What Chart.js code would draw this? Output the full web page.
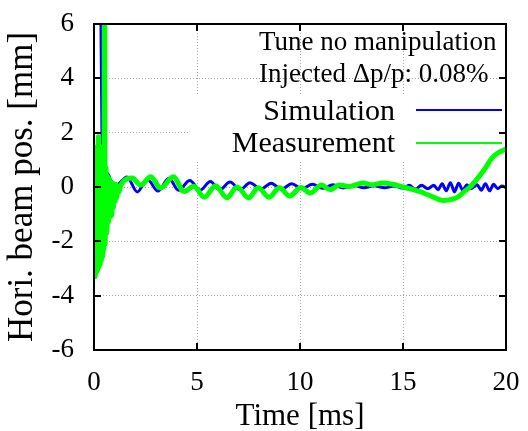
<!DOCTYPE html>
<html>
<head>
<meta charset="utf-8">
<script src="https://cdn.jsdelivr.net/npm/chart.js@4/dist/chart.umd.min.js"></script>
<style>
html,body{margin:0;padding:0;background:#fff;}
canvas{display:block;}
</style>
</head>
<body>
<canvas id="c" width="528" height="431"></canvas>
<script>
// ---- data ----
const xTickValues = [0, 5, 10, 15, 20];
const yTickValues = [-6, -4, -2, 0, 2, 4, 6];

const simTime = [0.30, 0.40, 0.55, 0.70, 0.97, 1.25, 1.60, 2.10, 2.60, 3.10, 3.64, 4.10, 4.65, 5.15, 5.65, 6.10, 6.60, 7.10, 7.57, 8.10, 8.60, 9.10, 9.60, 10.10, 10.60, 11.10, 11.60, 12.10, 12.60, 13.10, 13.60, 14.10, 14.60, 15.00, 15.30, 15.60, 15.90, 16.20, 16.50, 16.70, 16.90, 17.10, 17.30, 17.50, 17.70, 17.90, 18.10, 18.30, 18.60, 18.80, 19.00, 19.20, 19.40, 19.60, 19.80, 20.00];
const simPos  = [10, 0.9, 0.55, 0.45, 0.0, 0.15, 0.37, -0.18, 0.28, -0.15, 0.32, -0.12, 0.24, -0.12, 0.20, -0.10, 0.18, -0.10, 0.16, -0.08, 0.14, -0.08, 0.12, -0.06, 0.10, -0.05, 0.08, -0.04, 0.06, -0.03, 0.05, -0.03, 0.04, -0.04, 0.06, -0.08, 0.06, -0.06, 0.06, -0.10, 0.12, -0.14, 0.16, -0.18, 0.14, -0.12, 0.08, -0.06, 0.08, -0.12, 0.12, -0.14, 0.10, -0.06, 0.04, -0.03];

const measTime = [0.00, 0.03, 0.06, 0.09, 0.12, 0.15, 0.18, 0.21, 0.24, 0.27, 0.30, 0.33, 0.36, 0.39, 0.42, 0.45, 0.48, 0.51, 0.54, 0.58, 0.62, 0.66, 0.70, 0.74, 0.78, 0.82, 0.86, 0.90, 0.94, 0.98, 1.02, 1.06, 1.10, 1.15, 1.20, 1.30, 1.85, 2.27, 2.75, 3.24, 3.85, 4.37, 4.85, 5.35, 5.90, 6.45, 6.95, 7.50, 7.97, 8.50, 9.00, 9.50, 10.05, 10.50, 11.05, 11.46, 11.90, 12.40, 13.06, 13.50, 14.00, 14.50, 14.90, 15.50, 16.00, 16.50, 16.95, 17.40, 17.70, 18.00, 18.25, 18.60, 19.00, 19.30, 19.60, 20.00];
const measPos  = [-3.3, 0.5, -3.3, 0.9, -3.15, 1.5, -3.05, 1.85, -2.95, 1.5, -2.85, 1.3, -2.7, 1.2, -2.55, 1.0, -2.3, 10, -2.1, 0.7, -1.7, 0.4, -1.3, 0.3, -1.1, 0.2, -1.05, 0.15, -0.75, 0.1, -0.55, 0.1, -0.4, 0.05, -0.2, 0.07, 0.33, 0.07, 0.38, -0.04, 0.38, -0.17, 0.03, -0.38, 0.05, -0.4, 0.0, -0.4, -0.03, -0.38, -0.03, -0.33, -0.02, -0.22, 0.07, -0.1, 0.07, 0.02, 0.15, 0.08, 0.15, 0.10, 0.02, -0.10, -0.22, -0.38, -0.5, -0.45, -0.35, -0.15, 0.0, 0.3, 0.7, 1.05, 1.25, 1.4];

const seriesNames = ['Simulation', 'Measurement'];
const noteLines = ['Tune no manipulation', 'Injected \u0394p/p: 0.08%'];
const xTitle = 'Time [ms]';
const yTitle = 'Hori. beam pos. [mm]';

// ---- styles ----
const BLUE = '#0000ff';
const GREEN = '#00ff00';
const SERIF = "'Liberation Serif', 'Times New Roman', serif";

function pts(xs, ys) { return xs.map((x, i) => ({x: x, y: ys[i]})); }

const framePlugin = {
  id: 'frame',
  beforeDatasetsDraw(chart) {
    const ctx = chart.ctx, a = chart.chartArea;
    ctx.save();
    ctx.fillStyle = '#ffffff';
    // opaque key box
    ctx.fillRect(189, 95, a.right - 189, 65);
    ctx.restore();
  },
  afterDatasetsDraw(chart) {
    const ctx = chart.ctx, a = chart.chartArea;
    const xs = chart.scales.x, ys = chart.scales.y;
    ctx.save();
    ctx.strokeStyle = '#000';
    ctx.lineWidth = 2;
    ctx.beginPath();
    xTickValues.forEach(v => {
      const px = Math.round(xs.getPixelForValue(v));
      ctx.moveTo(px, a.bottom); ctx.lineTo(px, a.bottom - 7);
      ctx.moveTo(px, a.top); ctx.lineTo(px, a.top + 7);
    });
    yTickValues.forEach(v => {
      const py = Math.round(ys.getPixelForValue(v));
      ctx.moveTo(a.left, py); ctx.lineTo(a.left + 7, py);
      ctx.moveTo(a.right, py); ctx.lineTo(a.right - 7, py);
    });
    ctx.stroke();
    ctx.strokeRect(a.left, a.top, a.right - a.left, a.bottom - a.top);
    ctx.restore();
  },
  afterDraw(chart) {
    const ctx = chart.ctx;
    ctx.save();
    ctx.fillStyle = '#000';
    ctx.textBaseline = 'alphabetic';
    ctx.font = '27px ' + SERIF;
    ctx.textAlign = 'left';
    ctx.fillText(noteLines[0], 259, 50);
    ctx.fillText(noteLines[1], 259, 82);
    ctx.font = '30px ' + SERIF;
    ctx.textAlign = 'right';
    ctx.fillText(seriesNames[0], 395, 120);
    ctx.fillText(seriesNames[1], 395, 152);
    ctx.lineWidth = 2;
    ctx.strokeStyle = BLUE;
    ctx.beginPath(); ctx.moveTo(416, 110); ctx.lineTo(502, 110); ctx.stroke();
    ctx.strokeStyle = GREEN;
    ctx.beginPath(); ctx.moveTo(416, 143); ctx.lineTo(502, 143); ctx.stroke();
    ctx.restore();
  }
};

new Chart(document.getElementById('c'), {
  type: 'line',
  data: {
    datasets: [
      {
        label: seriesNames[1],
        data: pts(measTime, measPos),
        borderColor: GREEN,
        borderWidth: 5,
        pointRadius: 0,
        fill: false,
        cubicInterpolationMode: 'monotone',
        clip: 0
      },
      {
        label: seriesNames[0],
        data: pts(simTime, simPos),
        borderColor: BLUE,
        borderWidth: 3,
        pointRadius: 0,
        fill: false,
        cubicInterpolationMode: 'monotone',
        clip: 0
      }
    ]
  },
  options: {
    responsive: false,
    animation: false,
    devicePixelRatio: 1,
    layout: { padding: { left: 0, right: 22, top: 24, bottom: 0 } },
    plugins: { legend: { display: false }, tooltip: { enabled: false } },
    scales: {
      x: {
        type: 'linear',
        min: 0, max: 20,
        afterBuildTicks: s => { s.ticks = xTickValues.map(v => ({value: v})); },
        afterFit: s => { s.height = 81; s.paddingLeft = 0; s.paddingRight = 0; },
        grid: { color: '#a8a8a8', lineWidth: 1, drawTicks: false },
        border: { display: false, dash: [1, 2] },
        ticks: { color: '#000', padding: 17, maxRotation: 0, font: { family: SERIF, size: 27 } },
        title: { display: true, text: xTitle, color: '#000', padding: { top: 0, bottom: -4 }, font: { family: SERIF, size: 31 } }
      },
      y: {
        type: 'linear',
        min: -6, max: 6,
        afterBuildTicks: s => { s.ticks = yTickValues.map(v => ({value: v})); },
        afterFit: s => { s.width = 94; s.paddingTop = 0; s.paddingBottom = 0; },
        grid: { color: '#a8a8a8', lineWidth: 1, drawTicks: false },
        border: { display: false, dash: [1, 2] },
        ticks: { color: '#000', padding: 20, font: { family: SERIF, size: 27 } },
        title: { display: true, text: yTitle, color: '#000', padding: { top: 2, bottom: 0 }, font: { family: SERIF, size: 35 } }
      }
    }
  },
  plugins: [framePlugin]
});
</script>
</body>
</html>
